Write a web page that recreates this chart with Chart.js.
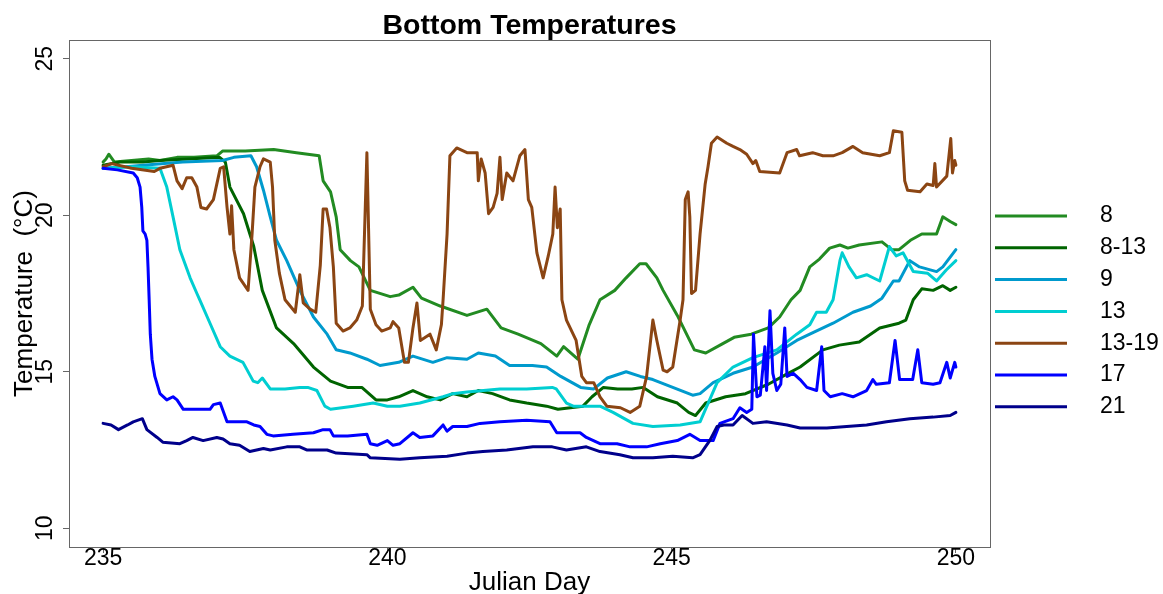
<!DOCTYPE html>
<html>
<head>
<meta charset="utf-8">
<title>Bottom Temperatures</title>
<script src="https://cdn.jsdelivr.net/npm/chart.js@4.4.1/dist/chart.umd.min.js"></script>
<style>
  html, body { margin: 0; padding: 0; background: #fff; }
  #wrap { width: 1163px; height: 594px; }
</style>
</head>
<body>
<div id="wrap"><canvas id="tempChart" width="1163" height="594"></canvas></div>
<script>
// Bottom temperature per station: [julian day, temperature °C]
const st8 = [[235.0,21.7],[235.05,21.8],[235.1,21.95],[235.2,21.7],[235.5,21.75],[235.8,21.8],[236.0,21.75],[236.3,21.85],[236.6,21.85],[237.0,21.9],[237.1,22.05],[237.5,22.05],[238.0,22.1],[238.4,22.0],[238.8,21.9],[238.87,21.1],[239.0,20.75],[239.1,19.95],[239.17,18.9],[239.35,18.55],[239.5,18.35],[239.7,17.6],[240.05,17.4],[240.2,17.45],[240.45,17.7],[240.6,17.35],[240.93,17.1],[241.4,16.8],[241.75,17.0],[242.0,16.4],[242.3,16.2],[242.7,15.9],[242.98,15.5],[243.1,15.8],[243.35,15.4],[243.55,16.5],[243.74,17.3],[244.0,17.6],[244.2,18.0],[244.44,18.45],[244.55,18.45],[244.74,18.0],[244.85,17.6],[245.1,16.8],[245.4,15.7],[245.6,15.6],[245.9,15.9],[246.1,16.1],[246.4,16.2],[246.7,16.4],[246.9,16.75],[247.1,17.3],[247.26,17.6],[247.43,18.35],[247.6,18.6],[247.78,18.95],[247.96,19.05],[248.1,18.95],[248.3,19.05],[248.7,19.15],[248.87,18.9],[249.0,18.9],[249.2,19.2],[249.4,19.4],[249.66,19.4],[249.77,19.95],[249.9,19.8],[250.0,19.7]];
const st8to13 = [[235.0,21.6],[235.3,21.7],[235.7,21.7],[236.0,21.75],[236.5,21.8],[237.05,21.85],[237.15,21.7],[237.23,20.9],[237.47,20.05],[237.65,19.0],[237.8,17.6],[238.05,16.4],[238.35,15.9],[238.7,15.15],[239.0,14.7],[239.3,14.5],[239.55,14.5],[239.8,14.1],[240.0,14.1],[240.2,14.2],[240.45,14.4],[240.7,14.2],[240.93,14.1],[241.15,14.3],[241.4,14.2],[241.6,14.4],[241.85,14.3],[242.15,14.1],[242.45,14.0],[242.8,13.9],[243.0,13.8],[243.44,13.9],[243.6,14.2],[243.8,14.5],[244.05,14.45],[244.3,14.45],[244.5,14.5],[244.75,14.2],[245.1,14.0],[245.3,13.7],[245.42,13.6],[245.6,14.0],[245.95,14.2],[246.3,14.3],[246.7,14.6],[247.0,14.9],[247.26,15.15],[247.66,15.7],[247.95,15.85],[248.3,15.95],[248.66,16.4],[249.0,16.55],[249.12,16.65],[249.25,17.3],[249.4,17.65],[249.6,17.6],[249.77,17.75],[249.9,17.6],[250.0,17.7]];
const st9 = [[235.0,21.5],[235.4,21.55],[235.7,21.6],[236.4,21.7],[237.1,21.75],[237.3,21.85],[237.6,21.9],[237.7,21.55],[237.82,20.8],[237.94,19.95],[238.05,19.2],[238.23,18.55],[238.46,17.6],[238.7,16.75],[238.94,16.2],[239.1,15.7],[239.34,15.6],[239.64,15.4],[239.87,15.2],[240.2,15.3],[240.45,15.5],[240.8,15.3],[241.05,15.45],[241.4,15.4],[241.6,15.6],[241.9,15.5],[242.15,15.2],[242.55,15.2],[242.8,15.15],[243.05,14.85],[243.4,14.5],[243.63,14.45],[243.87,14.8],[244.2,15.0],[244.45,14.85],[244.67,14.75],[245.02,14.5],[245.37,14.25],[245.5,14.3],[245.73,14.65],[246.08,14.95],[246.43,15.15],[246.85,15.6],[247.2,16.0],[247.43,16.2],[247.84,16.55],[248.19,16.9],[248.5,17.1],[248.7,17.35],[248.9,17.9],[249.0,17.9],[249.19,18.55],[249.36,18.35],[249.66,18.2],[249.77,18.35],[250.0,18.9]];
const st13 = [[235.0,21.5],[235.5,21.55],[236.0,21.5],[236.12,20.9],[236.23,19.95],[236.35,18.9],[236.53,18.0],[236.65,17.5],[236.7,17.3],[236.88,16.55],[237.06,15.8],[237.23,15.5],[237.46,15.3],[237.64,14.7],[237.72,14.65],[237.8,14.8],[237.94,14.45],[238.2,14.45],[238.46,14.5],[238.6,14.5],[238.76,14.4],[238.9,13.9],[239.0,13.8],[239.4,13.9],[239.75,14.0],[240.0,13.9],[240.22,13.9],[240.57,14.0],[240.98,14.2],[241.15,14.3],[241.4,14.35],[241.98,14.45],[242.45,14.45],[242.9,14.5],[242.97,14.45],[243.15,14.0],[243.27,13.9],[243.74,13.9],[243.97,13.7],[244.32,13.35],[244.67,13.25],[245.15,13.3],[245.5,13.4],[245.62,13.9],[245.8,14.65],[246.08,15.15],[246.43,15.45],[246.85,15.7],[247.2,16.2],[247.43,16.5],[247.55,16.9],[247.72,16.9],[247.84,17.3],[247.96,18.55],[248.0,18.8],[248.12,18.35],[248.25,18.0],[248.43,18.1],[248.66,17.9],[248.83,19.0],[248.95,18.7],[249.07,18.8],[249.25,18.2],[249.5,18.15],[249.66,17.9],[249.83,18.25],[250.0,18.55]];
const st13to19 = [[235.0,21.55],[235.15,21.65],[235.5,21.5],[235.9,21.4],[236.0,21.5],[236.23,21.6],[236.3,21.1],[236.39,20.85],[236.47,21.2],[236.56,21.2],[236.65,20.9],[236.72,20.25],[236.82,20.2],[236.94,20.5],[237.06,21.5],[237.12,21.55],[237.18,20.25],[237.23,19.4],[237.26,20.3],[237.3,18.9],[237.4,18.0],[237.55,17.6],[237.62,19.4],[237.67,20.9],[237.76,21.55],[237.82,21.8],[237.94,21.7],[237.98,20.9],[238.02,19.2],[238.1,18.15],[238.2,17.3],[238.29,17.1],[238.38,16.9],[238.46,18.1],[238.52,17.2],[238.64,17.0],[238.74,16.9],[238.82,18.4],[238.87,20.2],[238.93,20.2],[238.99,19.6],[239.05,18.35],[239.1,16.55],[239.22,16.3],[239.34,16.4],[239.46,16.65],[239.56,17.1],[239.64,22.0],[239.7,17.0],[239.8,16.5],[239.9,16.3],[240.05,16.4],[240.1,16.6],[240.2,16.4],[240.3,15.3],[240.37,15.3],[240.45,16.4],[240.52,17.2],[240.58,16.0],[240.75,16.2],[240.86,15.7],[240.95,16.5],[240.98,17.3],[241.05,19.4],[241.1,21.9],[241.22,22.15],[241.4,22.0],[241.58,22.0],[241.6,21.1],[241.65,21.8],[241.72,21.35],[241.78,20.05],[241.86,20.25],[241.93,20.7],[241.98,21.85],[242.02,20.5],[242.1,21.35],[242.21,21.1],[242.33,21.9],[242.42,22.1],[242.48,20.5],[242.54,20.25],[242.63,18.8],[242.74,18.0],[242.83,18.7],[242.91,19.4],[242.95,20.9],[242.99,19.6],[243.04,20.2],[243.07,17.3],[243.15,16.65],[243.32,16.0],[243.42,14.85],[243.5,14.65],[243.63,14.65],[243.74,14.2],[243.86,13.9],[244.1,13.85],[244.27,13.7],[244.44,13.9],[244.56,14.85],[244.67,16.65],[244.74,16.0],[244.85,15.05],[244.92,15.0],[245.02,15.15],[245.15,16.65],[245.2,17.3],[245.24,20.5],[245.29,20.75],[245.32,19.95],[245.35,17.5],[245.42,17.6],[245.5,19.4],[245.59,21.0],[245.64,21.55],[245.7,22.3],[245.8,22.5],[245.97,22.3],[246.08,22.2],[246.2,22.1],[246.32,21.95],[246.43,21.65],[246.48,21.75],[246.55,21.4],[246.9,21.35],[247.03,22.0],[247.2,22.1],[247.25,21.9],[247.48,22.0],[247.66,21.9],[247.84,21.9],[248.0,22.0],[248.19,22.2],[248.36,22.0],[248.66,21.9],[248.83,22.0],[248.9,22.7],[249.05,22.65],[249.1,21.1],[249.15,20.8],[249.37,20.75],[249.49,21.0],[249.6,20.95],[249.63,21.65],[249.66,20.9],[249.84,21.25],[249.91,22.45],[249.94,21.35],[249.98,21.75],[250.0,21.6]];
const st17 = [[235.0,21.5],[235.25,21.45],[235.53,21.35],[235.6,21.2],[235.65,20.9],[235.68,20.25],[235.7,19.5],[235.74,19.4],[235.77,19.2],[235.79,18.35],[235.81,17.3],[235.83,16.2],[235.86,15.4],[235.91,14.85],[236.0,14.3],[236.12,14.1],[236.23,14.2],[236.3,14.1],[236.41,13.8],[236.88,13.8],[236.94,13.95],[237.06,14.0],[237.18,13.4],[237.53,13.4],[237.65,13.3],[237.76,13.25],[237.88,13.0],[237.99,12.95],[238.34,13.0],[238.7,13.05],[238.87,13.15],[238.99,13.15],[239.05,12.95],[239.3,12.95],[239.64,13.0],[239.7,12.7],[239.82,12.65],[240.0,12.8],[240.1,12.65],[240.22,12.7],[240.45,13.05],[240.57,12.9],[240.8,12.95],[240.98,13.3],[241.05,13.1],[241.15,13.25],[241.4,13.25],[241.63,13.35],[241.98,13.4],[242.45,13.45],[242.86,13.4],[242.98,13.05],[243.39,13.05],[243.5,12.9],[243.74,12.7],[244.04,12.7],[244.27,12.6],[244.56,12.6],[244.8,12.7],[245.1,12.8],[245.32,13.0],[245.5,12.8],[245.73,12.8],[245.85,13.35],[246.08,13.5],[246.2,13.85],[246.32,13.7],[246.41,13.8],[246.44,16.2],[246.5,14.2],[246.56,14.25],[246.64,15.8],[246.67,14.4],[246.73,16.95],[246.78,14.95],[246.85,14.4],[246.92,14.6],[246.99,16.4],[247.03,14.85],[247.14,14.95],[247.26,14.75],[247.38,14.5],[247.55,14.4],[247.64,15.8],[247.68,14.4],[247.79,14.2],[248.0,14.3],[248.19,14.2],[248.43,14.4],[248.54,14.75],[248.6,14.6],[248.83,14.65],[248.93,16.0],[249.01,14.75],[249.24,14.75],[249.33,15.7],[249.4,14.65],[249.6,14.6],[249.72,14.65],[249.84,15.3],[249.9,14.8],[249.98,15.3],[250.0,15.15]];
const st21 = [[235.0,13.35],[235.14,13.3],[235.27,13.15],[235.43,13.3],[235.53,13.4],[235.69,13.5],[235.77,13.15],[235.95,12.9],[236.05,12.75],[236.35,12.7],[236.47,12.8],[236.58,12.9],[236.76,12.8],[237.0,12.9],[237.11,12.85],[237.23,12.7],[237.4,12.65],[237.58,12.45],[237.82,12.55],[237.94,12.5],[238.23,12.6],[238.46,12.6],[238.58,12.5],[238.94,12.5],[239.1,12.4],[239.64,12.35],[239.7,12.25],[240.22,12.2],[240.57,12.25],[241.05,12.3],[241.4,12.4],[241.68,12.45],[242.1,12.5],[242.56,12.6],[242.9,12.6],[243.15,12.5],[243.5,12.6],[243.74,12.45],[244.09,12.35],[244.32,12.25],[244.67,12.25],[245.02,12.3],[245.37,12.25],[245.5,12.35],[245.67,12.8],[245.8,13.25],[245.92,13.3],[246.08,13.3],[246.24,13.6],[246.43,13.35],[246.67,13.4],[247.03,13.3],[247.26,13.2],[247.73,13.2],[248.08,13.25],[248.43,13.3],[248.78,13.4],[249.19,13.5],[249.6,13.55],[249.9,13.6],[250.0,13.7]];

const stationNames = ['8', '8-13', '9', '13', '13-19', '17', '21'];
const stationSeries = [st8, st8to13, st9, st13, st13to19, st17, st21];
const xTicks = [235, 240, 245, 250];
const yTicks = [10, 15, 20, 25];

const lineColors = ['#228B22', '#006400', '#009ACD', '#00CED1', '#8B4513', '#0000FF', '#00008B'];
const FONT = '"Liberation Sans", Arial, sans-serif';

// plot frame on all four sides
const plotBox = {
  id: 'plotBox',
  afterDatasetsDraw(chart) {
    const { ctx, chartArea: a } = chart;
    ctx.save();
    ctx.strokeStyle = '#666';
    ctx.lineWidth = 1;
    ctx.strokeRect(Math.round(a.left) + 0.5, Math.round(a.top) + 0.5,
      Math.round(a.right - a.left), Math.round(a.bottom - a.top));
    ctx.restore();
  }
};

// station key to the right of the plot
const sideLegend = {
  id: 'sideLegend',
  afterDraw(chart) {
    const { ctx, chartArea: a } = chart;
    ctx.save();
    ctx.font = '23px ' + FONT;
    ctx.textBaseline = 'middle';
    ctx.textAlign = 'left';
    chart.data.datasets.forEach((ds, i) => {
      const y = a.top + 176 + i * 31.8;
      ctx.strokeStyle = ds.borderColor;
      ctx.lineWidth = 3;
      ctx.beginPath();
      ctx.moveTo(a.right + 5, y);
      ctx.lineTo(a.right + 77, y);
      ctx.stroke();
      ctx.fillStyle = '#000';
      ctx.fillText(ds.label, a.right + 110, y);
    });
    ctx.restore();
  }
};

const datasets = stationSeries.map((pts, i) => ({
  label: stationNames[i],
  data: pts.map(([d, t]) => ({ x: d, y: t })),
  borderColor: lineColors[i],
  backgroundColor: lineColors[i],
  borderWidth: 3,
  pointRadius: 0,
  tension: 0,
  fill: false,
  borderCapStyle: 'round',
  borderJoinStyle: 'round',
  // later stations are drawn over earlier ones
  order: stationSeries.length - i
}));

const ctx = document.getElementById('tempChart').getContext('2d');
new Chart(ctx, {
  type: 'line',
  data: { datasets },
  options: {
    responsive: false,
    animation: false,
    devicePixelRatio: 1,
    layout: { padding: { left: 0, right: 173, top: 0, bottom: 0 } },
    plugins: {
      legend: { display: false },
      tooltip: { enabled: false },
      title: {
        display: true,
        text: 'Bottom Temperatures',
        fullSize: false,
        color: '#000',
        font: { family: FONT, size: 28.5, weight: 'bold', lineHeight: 1 },
        padding: { top: 11.5, bottom: 0 }
      }
    },
    scales: {
      x: {
        type: 'linear',
        min: 234.4,
        max: 250.6,
        afterBuildTicks: s => { s.ticks = xTicks.map(v => ({ value: v })); },
        afterFit: s => { s.height = 47; },
        grid: { drawOnChartArea: false, drawTicks: true, tickLength: 6, color: '#666' },
        border: { display: true, color: '#666', width: 1 },
        ticks: {
          color: '#000',
          font: { family: FONT, size: 23, lineHeight: 1 },
          padding: -5.5,
          maxRotation: 0,
          callback: v => String(v)
        },
        title: {
          display: true,
          text: 'Julian Day',
          color: '#000',
          font: { family: FONT, size: 26, lineHeight: 1 },
          padding: { top: 0, bottom: -2 }
        }
      },
      y: {
        type: 'linear',
        min: 9.4,
        max: 25.6,
        afterBuildTicks: s => { s.ticks = yTicks.map(v => ({ value: v })); },
        afterFit: s => { s.width = 69; },
        grid: { drawOnChartArea: false, drawTicks: true, tickLength: 6, color: '#666' },
        border: { display: true, color: '#666', width: 1 },
        ticks: {
          color: '#000',
          font: { family: FONT, size: 23, lineHeight: 1 },
          minRotation: 90,
          maxRotation: 90,
          crossAlign: 'center',
          padding: 4.2,
          callback: v => String(v)
        },
        title: {
          display: true,
          text: 'Temperature  (°C)',
          color: '#000',
          font: { family: FONT, size: 26, lineHeight: 1 },
          padding: { top: 12, bottom: 0 }
        }
      }
    }
  },
  plugins: [plotBox, sideLegend]
});
</script>
</body>
</html>
